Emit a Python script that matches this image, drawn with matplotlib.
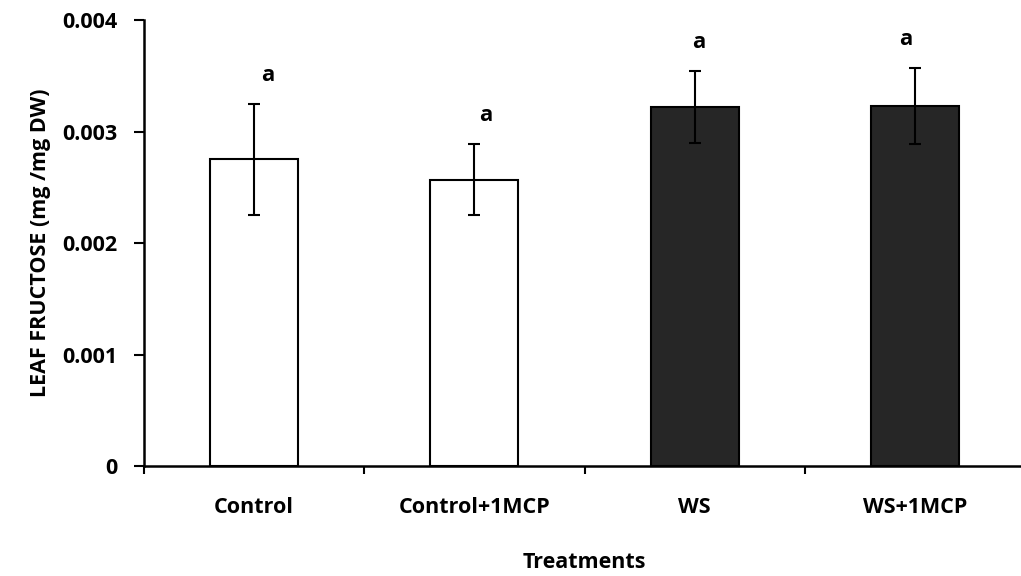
import numpy as np
import matplotlib.pyplot as plt

plt.rcParams['font.family'] = ['Open Sans', 'DejaVu Sans']
plt.rcParams['font.weight'] = 'bold'

# Leaf fructose per treatment (mg / mg DW) with standard errors
treatments = ['Control', 'Control+1MCP', 'WS', 'WS+1MCP']
fructose = [0.00275, 0.00257, 0.00322, 0.00323]
errors = [0.00050, 0.00032, 0.00032, 0.00034]
letters = ['a', 'a', 'a', 'a']
fills = ['white', 'white', '#262626', '#262626']

fig = plt.figure(figsize=(10.21, 5.76), dpi=100)
ax = fig.add_axes([0.141, 0.191, 0.863, 0.774])

x = np.arange(len(treatments))
ax.bar(x, fructose, width=0.4, color=fills, edgecolor='black', linewidth=1.5,
       zorder=2)
ax.errorbar(x, fructose, yerr=errors, fmt='none', ecolor='black',
            elinewidth=1.5, capsize=4.5, capthick=1.5, zorder=3)

# significance letters above the error bars
nudge = [0.06, 0.05, 0.02, -0.04]
for xi, v, e, lab, dx in zip(x, fructose, errors, letters, nudge):
    ax.annotate(lab, (xi + dx, v + e), xytext=(0, 13), textcoords='offset points',
                ha='center', va='bottom', fontsize=16, fontweight='bold')

ax.set_xlim(-0.5, 3.5)
ax.set_ylim(0, 0.004)
ax.set_yticks([0, 0.001, 0.002, 0.003, 0.004])
ax.set_yticklabels(['0', '0.001', '0.002', '0.003', '0.004'])
ax.set_xticks(x)
ax.set_xticklabels(treatments)
ax.tick_params(axis='x', length=0, pad=22, labelsize=15.5)
ax.tick_params(axis='y', length=7, width=1.5, pad=12, labelsize=15.5)

# category boundary ticks along the x axis
ax.set_xticks(np.arange(-0.5, 3.5, 1.0), minor=True)
ax.tick_params(axis='x', which='minor', length=6, width=1.5, direction='out')

for side in ['top', 'right']:
    ax.spines[side].set_visible(False)
for side in ['left', 'bottom']:
    ax.spines[side].set_linewidth(1.8)

ax.set_ylabel('LEAF FRUCTOSE (mg /mg DW)', fontsize=15.5, fontweight='bold',
              labelpad=8)
ax.set_xlabel('Treatments', fontsize=15.5, fontweight='bold', labelpad=25)

fig.savefig('out.png', dpi=100)
